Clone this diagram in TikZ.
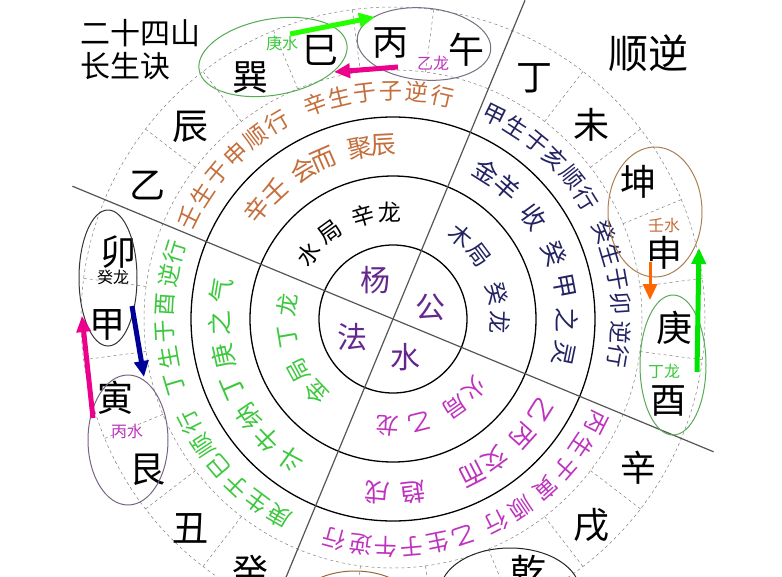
\documentclass[tikz,border=0pt]{standalone}
\usepackage{fontspec}
\newfontfamily\cjk{Noto Sans CJK SC}
\usetikzlibrary{arrows.meta}
\definecolor{ochre}{RGB}{196,110,60}
\definecolor{navy}{RGB}{35,35,100}
\definecolor{rose}{RGB}{190,50,190}
\definecolor{leaf}{RGB}{60,200,60}
\definecolor{violet}{RGB}{100,40,140}
\definecolor{axis}{RGB}{85,85,85}
\tikzstyle{mtn} = [font=\cjk\fontsize{36}{36}\selectfont, inner sep=0pt]
\tikzstyle{outer} = [font=\cjk\fontsize{23}{23}\selectfont, inner sep=0pt]
\tikzstyle{middle} = [font=\cjk\fontsize{25}{25}\selectfont, inner sep=0pt]
\tikzstyle{inner} = [font=\cjk\fontsize{23}{23}\selectfont, inner sep=0pt]
\tikzstyle{core} = [font=\cjk\fontsize{30}{30}\selectfont, inner sep=0pt, text=violet]
\tikzstyle{tag} = [font=\cjk\fontsize{16}{16}\selectfont, inner sep=0pt]
\tikzstyle{bigarrow} = [line width=5pt, -{Triangle[length=16pt,width=14pt]}]
\newcommand{\ringtext}[6]{% prefix, radius, start, step, options, chars
  \foreach \ch [count=\i from 0] in {#6} {
    \pgfmathsetmacro{\ang}{#3+#4*\i}
    \node[#5, rotate=-\ang] (#1-\i) at ({\ang-90}:#2) {\ch};
  }}

\begin{document}
\begin{tikzpicture}[x=1pt, y=-1pt]
\useasboundingbox (0,0) rectangle (782,576);
\clip (0,0) rectangle (782,576);
\fill[white] (0,0) rectangle (782,576);

\begin{scope}[shift={(393,319)}]
  % rings
  \draw[line width=1.3pt] (0,0) circle (74pt);
  \draw[line width=1.3pt] (0,0) circle (143pt);
  \draw[line width=1.3pt] (0,0) circle (202pt);
  \draw[gray, dashed, line width=.5pt] (0,0) circle (249pt);
  \draw[gray, dashed, line width=.5pt] (0,0) circle (312pt);
  \foreach \k in {0,...,23}
    \draw[gray, dashed, line width=.5pt] ({7.5+15*\k-90}:249) -- ({7.5+15*\k-90}:312);
  % quadrant axes
  \draw[axis, line width=1.2pt] ({22.5-90}:345) -- ({202.5-90}:345);
  \draw[axis, line width=1.2pt] ({292.5-90}:347) -- ({112.5-90}:347);

  % outer ring
  \ringtext{ra}{228}{296.5}{6.6}{outer, text=ochre}{壬,生,于,申,顺,行}
  \ringtext{rb}{228}{340}{6.5}{outer, text=ochre}{辛,生,于,子}
  \ringtext{rc}{228}{6}{6.5}{outer, text=ochre}{逆,行}
  \ringtext{rd}{228}{26.5}{6.3}{outer, text=navy}{甲,生,于,亥,顺,行}
  \ringtext{re}{228}{67.5}{6.2}{outer, text=navy}{癸,生,于,卯}
  \ringtext{rf}{228}{93.5}{6}{outer, text=navy}{逆,行}
  \ringtext{rg}{228}{117}{7}{outer, text=rose}{丙,生,于,寅}
  \ringtext{rh}{228}{146}{7}{outer, text=rose}{顺,行}
  \ringtext{ri}{228}{162}{6.6}{outer, text=rose}{乙,生,于,午}
  \ringtext{rj}{228}{188}{7}{outer, text=rose}{逆,行}
  \ringtext{rk}{228}{210}{6.6}{outer, text=leaf}{庚,生,于,巳,顺,行}
  \ringtext{rl}{228}{253.5}{6.7}{outer, text=leaf}{丁,生,于,酉}
  \ringtext{rm}{228}{281}{6}{outer, text=leaf}{逆,行}

  % middle ring
  \ringtext{sa}{174}{308.7}{8.5}{middle, text=ochre}{辛,壬}
  \ringtext{sb}{174}{329}{7.5}{middle, text=ochre}{会,而}
  \ringtext{sc}{174}{349}{8}{middle, text=ochre}{聚,辰}
  \ringtext{sd}{174}{32.4}{8.5}{middle, text=navy}{金,羊}
  \ringtext{se}{174}{54}{0}{middle, text=navy}{收}
  \ringtext{sf}{174}{68}{11.2}{middle, text=navy}{癸,甲,之,灵}
  \ringtext{sg}{174}{122}{10}{middle, text=rose}{乙,丙}
  \ringtext{sh}{174}{144}{9}{middle, text=rose}{交,而}
  \ringtext{si}{174}{173.5}{11.7}{middle, text=rose}{趋,戌}
  \ringtext{sj}{174}{216}{10.4}{middle, text=leaf}{斗,牛}
  \ringtext{sk}{174}{235.8}{10.9}{middle, text=leaf}{纳,丁,庚,之,气}

  % inner ring
  \ringtext{ta}{107}{307.5}{16.5}{inner, text=black}{水,局}
  \ringtext{tb}{107}{344}{14.4}{inner, text=black}{辛,龙}
  \ringtext{tc}{107}{39.3}{14}{inner, text=navy}{木,局}
  \ringtext{td}{107}{76}{16}{inner, text=navy}{癸,龙}
  \ringtext{te}{107}{130.4}{14.4}{inner, text=rose}{火,局}
  \ringtext{tf}{107}{166}{17}{inner, text=rose}{乙,龙}
  \ringtext{tg}{107}{226.4}{15}{inner, text=leaf}{金,局}
  \ringtext{th}{107}{260.5}{16.8}{inner, text=leaf}{丁,龙}
\end{scope}

% centre
\node[core] (yang) at (375,280) {杨};
\node[core] (gong) at (430,307) {公};
\node[core] (shui) at (405,357) {水};
\node[core] (fa) at (352,337) {法};

% twenty-four mountains
\node[mtn] (bing) at (390,43) {丙};
\node[mtn] (wu) at (466,50) {午};
\node[mtn] (ding) at (534,78) {丁};
\node[mtn] (wei) at (591,125) {未};
\node[mtn] (kun) at (638,182) {坤};
\node[mtn] (shen) at (664,253) {申};
\node[mtn] (geng) at (674,328) {庚};
\node[mtn] (you) at (668,401) {酉};
\node[mtn] (xin) at (638,468) {辛};
\node[mtn] (xu) at (591,525) {戌};
\node[mtn] (qian) at (528,572) {乾};
\node[mtn] (gui) at (250,572) {癸};
\node[mtn] (chou) at (190,528) {丑};
\node[mtn] (gen) at (147,470) {艮};
\node[mtn] (yin) at (115,398) {寅};
\node[mtn] (jia) at (107,325) {甲};
\node[mtn] (mao) at (118,252) {卯};
\node[mtn] (yi) at (147,185) {乙};
\node[mtn] (chen) at (190,127) {辰};
\node[mtn] (xun) at (250,78) {巽};
\node[mtn] (si) at (320,50) {巳};

% ellipses round the pairs
\draw[green!35!gray, line width=1pt, shift={(273,57)}, rotate=10] (0,0) ellipse [x radius=75pt, y radius=38pt];
\draw[gray!80!violet, line width=1pt, shift={(424,44)}, rotate=-5] (0,0) ellipse [x radius=67pt, y radius=36pt];
\draw[black!80, line width=1pt] (108,278) ellipse [x radius=29pt, y radius=68pt];
\draw[gray!70!violet, line width=1pt] (128,440) ellipse [x radius=40pt, y radius=65pt];
\draw[brown!70!gray, line width=1pt] (655,212) ellipse [x radius=47pt, y radius=65pt];
\draw[leaf!60!gray, line width=1pt] (673,365) ellipse [x radius=33pt, y radius=70pt];
\draw[black!85, line width=1pt] (510,592) ellipse [x radius=70pt, y radius=44pt];
\draw[brown!80!black, line width=1pt] (355,616) ellipse [x radius=66pt, y radius=45pt];

\node[tag, text=leaf] (gengshui) at (282,43) {庚水};
\node[tag, text=rose] (yilong) at (433,63) {乙龙};
\node[tag, text=black] (guilong) at (113,277) {癸龙};
\node[tag, text=rose] (bingshui) at (127,431) {丙水};
\node[tag, text=ochre] (renshui) at (664,225) {壬水};
\node[tag, text=leaf] (dinglong) at (664,371) {丁龙};

% arrows
\coordinate (ga1) at (290,34);
\coordinate (ga2) at (375,17);
\coordinate (ma1) at (398,67);
\coordinate (ma2) at (334,72);
\coordinate (mb1) at (93,418);
\coordinate (mb2) at (82,316);
\coordinate (na1) at (132,306);
\coordinate (na2) at (144,377);
\coordinate (oa1) at (650,262);
\coordinate (oa2) at (650,300);
\coordinate (gb1) at (697,372);
\coordinate (gb2) at (699,248);
\draw[bigarrow, green!85!yellow] (ga1) -- (ga2);
\draw[bigarrow, magenta] (ma1) -- (ma2);
\draw[bigarrow, magenta] (mb1) -- (mb2);
\draw[bigarrow, blue!60!black] (na1) -- (na2);
\draw[bigarrow, orange!80!red, line width=3pt] (oa1) -- (oa2);
\draw[bigarrow, green!90!black] (gb1) -- (gb2);

% titles
\node[anchor=west, font=\cjk\fontsize{30}{30}\selectfont, inner sep=0pt] (title) at (80,33) {二十四山};
\node[anchor=west, font=\cjk\fontsize{30}{30}\selectfont, inner sep=0pt] (subtitle) at (80,66) {长生诀};
\node[font=\cjk\fontsize{40}{40}\selectfont, inner sep=0pt] (shunni) at (648,53) {顺逆};
\end{tikzpicture}
\end{document}
